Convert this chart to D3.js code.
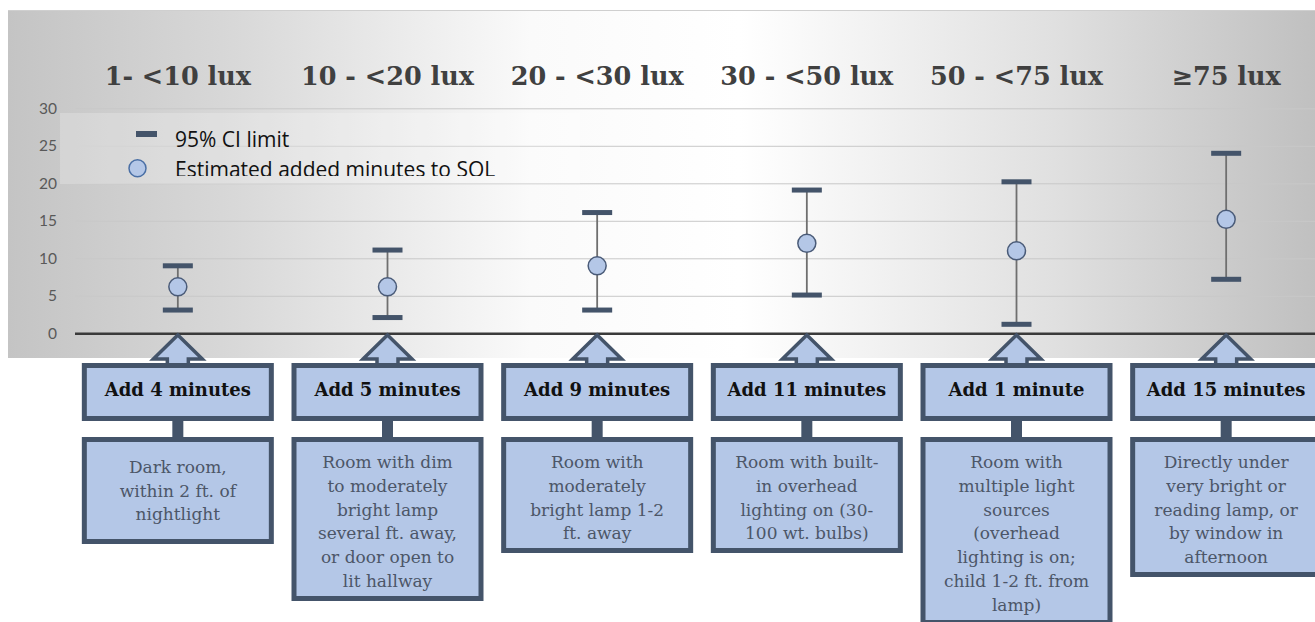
<!DOCTYPE html>
<html>
<head>
<meta charset="utf-8">
<script src="https://cdn.jsdelivr.net/npm/d3@7"></script>
<style>
  html, body { margin: 0; padding: 0; background: #fff; }
  svg { display: block; }
</style>
</head>
<body>
<script>
// lux bands along the x axis
const categories = ["1- <10 lux", "10 - <20 lux", "20 - <30 lux", "30 - <50 lux", "50 - <75 lux", "\u226575 lux"]

// estimated added minutes to SOL + 95% CI limits
const estimate = [6.2, 6.2, 9, 12, 11, 15.2]
const ciLower  = [3.1, 2.1, 3.1, 5.1, 1.2, 7.2]
const ciUpper  = [9, 11.1, 16.1, 19.1, 20.2, 24]

const yTicks = [0, 5, 10, 15, 20, 25, 30]

const addLabels = ["Add 4 minutes", "Add 5 minutes", "Add 9 minutes", "Add 11 minutes", "Add 1 minute", "Add 15 minutes"]

const descriptions = [
  ["Dark room,", "within 2 ft. of", "nightlight"],
  ["Room with dim", "to moderately", "bright lamp", "several ft. away,", "or door open to", "lit hallway"],
  ["Room with", "moderately", "bright lamp 1-2", "ft. away"],
  ["Room with built-", "in overhead", "lighting on (30-", "100 wt. bulbs)"],
  ["Room with", "multiple light", "sources", "(overhead", "lighting is on;", "child 1-2 ft. from", "lamp)"],
  ["Directly under", "very bright or", "reading  lamp, or", "by window in", "afternoon"]
]

const legendItems = ["95% CI limit", "Estimated added minutes to SOL"]

const width = 1315, height = 622
const c_dark = "#44546a", c_light = "#b4c7e7"
const serif = "'DejaVu Serif', serif"

const svg = d3.select("body").append("svg")
  .attr("width", width).attr("height", height)

const defs = svg.append("defs")
const grad = defs.append("linearGradient").attr("id", "bg")
  .attr("x1", "0%").attr("x2", "100%").attr("y1", "0%").attr("y2", "0%")
grad.selectAll("stop")
  .data([[0, "#c4c4c4"], [0.18, "#d9d9d9"], [0.4, "#fafafa"], [0.56, "#ffffff"], [0.8, "#e0e0e0"], [1, "#c0c0c0"]])
  .join("stop").attr("offset", d => d[0]).attr("stop-color", d => d[1])

defs.append("clipPath").attr("id", "legclip")
  .append("rect").attr("x", 60).attr("y", 113).attr("width", 520).attr("height", 63)

// chart panel
svg.append("rect")
  .attr("x", 8).attr("y", 10).attr("width", width - 8).attr("height", 348)
  .attr("fill", "url(#bg)")
svg.append("line")
  .attr("x1", 8).attr("x2", width).attr("y1", 10.5).attr("y2", 10.5)
  .attr("stroke", "#cfcfcf")

const x = d3.scaleBand().domain(categories).range([73, 1331])
const y = d3.scaleLinear().domain([0, 30]).range([333.3, 108.3])
const cx = d => x(d) + x.bandwidth() / 2

// gridlines + y labels
const yAxis = svg.append("g")
  .attr("transform", "translate(75,0)")
  .call(d3.axisLeft(y).tickValues(yTicks).tickSize(-(width - 75)).tickPadding(18))
yAxis.select(".domain").remove()
yAxis.selectAll(".tick line")
  .attr("stroke", d => d === 0 ? "#3a3a3a" : "#c8c8c8")
  .attr("stroke-width", d => d === 0 ? 2.5 : 1)
yAxis.selectAll(".tick text")
  .attr("fill", "#595959")
  .style("font-family", "Lato, sans-serif")
  .style("font-size", "15.5px")

// band headings
svg.append("g").selectAll("text")
  .data(categories)
  .join("text")
  .attr("x", d => cx(d))
  .attr("y", 85)
  .attr("text-anchor", "middle")
  .attr("fill", "#404040")
  .style("font-family", serif)
  .style("font-weight", "bold")
  .style("font-size", "25.5px")
  .text(d => d)

// legend
const leg = svg.append("g")
leg.append("rect")
  .attr("x", 60).attr("y", 113).attr("width", 520).attr("height", 71)
  .attr("fill", "#fff").attr("fill-opacity", 0.22)
leg.append("rect")
  .attr("x", 136).attr("y", 131).attr("width", 21).attr("height", 6)
  .attr("fill", c_dark)
leg.append("circle")
  .attr("cx", 137.5).attr("cy", 168.3).attr("r", 8.5)
  .attr("fill", c_light).attr("stroke", "#4a6fa5").attr("stroke-width", 1.5)
leg.append("g").attr("clip-path", "url(#legclip)")
  .selectAll("text")
  .data(legendItems)
  .join("text")
  .attr("x", 175)
  .attr("y", (d, i) => 146.7 + i * 30.3)
  .attr("fill", "#111")
  .style("font-family", "'Open Sans', sans-serif")
  .style("font-size", "21px")
  .text(d => d)

// error bars
const bars = svg.append("g").selectAll("g")
  .data(categories)
  .join("g")
bars.append("line")
  .attr("x1", d => cx(d)).attr("x2", d => cx(d))
  .attr("y1", (d, i) => y(ciUpper[i])).attr("y2", (d, i) => y(ciLower[i]))
  .attr("stroke", "#6f6f6f").attr("stroke-width", 1.8)
bars.selectAll("rect.cap")
  .data((d, i) => [ciUpper[i], ciLower[i]].map(v => [cx(d), v]))
  .join("rect")
  .attr("class", "cap")
  .attr("x", d => d[0] - 15).attr("y", d => y(d[1]) - 2.5)
  .attr("width", 30).attr("height", 5)
  .attr("fill", c_dark)
bars.append("circle")
  .attr("cx", d => cx(d))
  .attr("cy", (d, i) => y(estimate[i]))
  .attr("r", 9)
  .attr("fill", c_light).attr("stroke", "#4a5b78").attr("stroke-width", 1.5)

// arrows + callout boxes
const call = svg.append("g").selectAll("g")
  .data(categories)
  .join("g")

call.append("path")
  .attr("d", d => {
    const c = cx(d)
    return `M${c},335 L${c + 24.5},359 L${c + 10.5},359 L${c + 10.5},366 L${c - 10.5},366 L${c - 10.5},359 L${c - 24.5},359 Z`
  })
  .attr("fill", c_light).attr("stroke", c_dark).attr("stroke-width", 3.5)
  .attr("stroke-linejoin", "miter")

call.append("rect")
  .attr("x", d => cx(d) - 5.5).attr("y", 419)
  .attr("width", 11).attr("height", 20)
  .attr("fill", c_dark)

call.append("rect")
  .attr("x", d => cx(d) - 93.5).attr("y", 365.5)
  .attr("width", 187).attr("height", 53)
  .attr("fill", c_light).attr("stroke", c_dark).attr("stroke-width", 5)

call.append("text")
  .attr("x", d => cx(d)).attr("y", 396)
  .attr("text-anchor", "middle")
  .attr("fill", "#111")
  .style("font-family", serif)
  .style("font-weight", "bold")
  .style("font-size", "18px")
  .text((d, i) => addLabels[i])

const lineH = 23.8
const boxH = i => Math.max(107, 20 + 24 * descriptions[i].length)

call.append("rect")
  .attr("x", d => cx(d) - 93.5).attr("y", 439.5)
  .attr("width", 187).attr("height", (d, i) => boxH(i) - 5)
  .attr("fill", c_light).attr("stroke", c_dark).attr("stroke-width", 5)

call.each(function(d, i) {
  const lines = descriptions[i]
  const mid = 437 + boxH(i) / 2
  const first = Math.max(462, mid - (lines.length - 1) * lineH / 2)
  d3.select(this).selectAll("text.desc")
    .data(lines)
    .join("text")
    .attr("class", "desc")
    .attr("x", cx(d))
    .attr("y", (t, j) => first + j * lineH + 6)
    .attr("text-anchor", "middle")
    .attr("fill", "#4c5668")
    .style("font-family", serif)
    .style("font-size", "17px")
    .text(t => t)
})
</script>
</body>
</html>
